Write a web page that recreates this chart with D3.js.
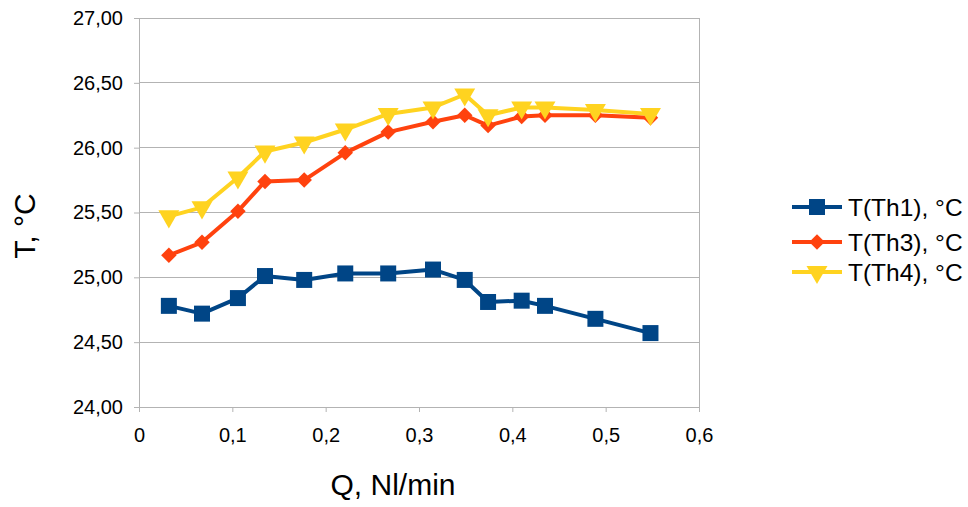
<!DOCTYPE html>
<html><head><meta charset="utf-8">
<script src="https://cdn.jsdelivr.net/npm/d3@7"></script>
<style>body{margin:0;background:#fff;}svg{font-family:"Liberation Sans",Arial,sans-serif;}</style>
</head><body><svg id="c" width="968" height="507"></svg>
<script>
const qValues = [0.032, 0.0675, 0.106, 0.135, 0.177, 0.221, 0.267, 0.315, 0.349, 0.374, 0.410, 0.435, 0.489, 0.548];
const th1 = [24.78, 24.72, 24.84, 25.01, 24.98, 25.03, 25.03, 25.06, 24.98, 24.81, 24.82, 24.78, 24.68, 24.57];
const th3 = [25.17, 25.27, 25.51, 25.74, 25.75, 25.96, 26.12, 26.20, 26.25, 26.17, 26.24, 26.25, 26.25, 26.23];
const th4 = [25.47, 25.54, 25.77, 25.97, 26.04, 26.14, 26.26, 26.31, 26.41, 26.25, 26.31, 26.31, 26.29, 26.26];
const seriesNames = ["T(Th1), °C", "T(Th3), °C", "T(Th4), °C"];
const xTicks = [0, 0.1, 0.2, 0.3, 0.4, 0.5, 0.6];
const yTicks = [24.0, 24.5, 25.0, 25.5, 26.0, 26.5, 27.0];

const colors = ["#004586", "#ff420e", "#ffd320"];
const svg = d3.select("#c");
const L = 139, R = 699, T = 18, B = 407;
const x = d3.scaleLinear().domain([0, 0.6]).range([L, R]);
const y = d3.scaleLinear().domain([24, 27]).range([B, T]);
const fmtX = d => d === 0 ? "0" : d3.format(".1f")(d).replace(".", ",");
const fmtY = d => d3.format(".2f")(d).replace(".", ",");

// gridlines
svg.append("g").selectAll("line").data(yTicks).join("line")
  .attr("x1", L).attr("x2", R).attr("y1", d => y(d)).attr("y2", d => y(d))
  .attr("stroke", "#b3b3b3").attr("stroke-width", 1).attr("shape-rendering", "crispEdges");
svg.append("line").attr("x1", R).attr("x2", R).attr("y1", T).attr("y2", B)
  .attr("stroke", "#b3b3b3").attr("shape-rendering", "crispEdges");

const yAxis = svg.append("g").attr("transform", `translate(${L},0)`)
  .call(d3.axisLeft(y).tickValues(yTicks).tickFormat(fmtY).tickSize(5).tickPadding(11));
const xAxis = svg.append("g").attr("transform", `translate(0,${B})`)
  .call(d3.axisBottom(x).tickValues(xTicks).tickFormat(fmtX).tickSize(5).tickPadding(16));
[yAxis, xAxis].forEach(a => {
  a.select(".domain").attr("stroke", "#b3b3b3");
  a.selectAll(".tick line").attr("stroke", "#b3b3b3");
  a.selectAll("text").attr("font-size", 20).attr("fill", "#000")
    .attr("font-family", "Liberation Sans, Arial, sans-serif");
});

svg.append("text").attr("x", 393).attr("y", 495).attr("text-anchor", "middle")
  .attr("font-size", 30).text("Q, Nl/min");
svg.append("text").attr("transform", "translate(35,226) rotate(-90)").attr("text-anchor", "middle")
  .attr("font-size", 30).text("T, °C");

const data = [th1, th3, th4];
const line = d3.line().x((d, i) => x(qValues[i])).y(d => y(d));
const symbols = [
  d3.symbol().type(d3.symbolSquare).size(256),
  d3.symbol().type(d3.symbolSquare).size(120),
  d3.symbol().type(d3.symbolTriangle).size(190)
];
const rot = [0, 45, 180];
data.forEach((s, k) => {
  const g = svg.append("g");
  g.append("path").datum(s).attr("d", line).attr("fill", "none")
    .attr("stroke", colors[k]).attr("stroke-width", 4).attr("stroke-linejoin", "round");
  g.selectAll("path.m").data(s).join("path").attr("class", "m")
    .attr("d", symbols[k])
    .attr("transform", (d, i) => `translate(${x(qValues[i])},${y(d)}) rotate(${rot[k]})`)
    .attr("fill", colors[k]);
});

// legend
const legY = [207, 242, 272];
seriesNames.forEach((n, k) => {
  const g = svg.append("g");
  g.append("line").attr("x1", 792).attr("x2", 842).attr("y1", legY[k]).attr("y2", legY[k])
    .attr("stroke", colors[k]).attr("stroke-width", 4);
  g.append("path").attr("d", symbols[k]).attr("fill", colors[k])
    .attr("transform", `translate(817,${legY[k]}) rotate(${rot[k]})`);
  g.append("text").attr("x", 848).attr("y", legY[k] + 9).attr("font-size", 24.5).text(n);
});
</script></body></html>
